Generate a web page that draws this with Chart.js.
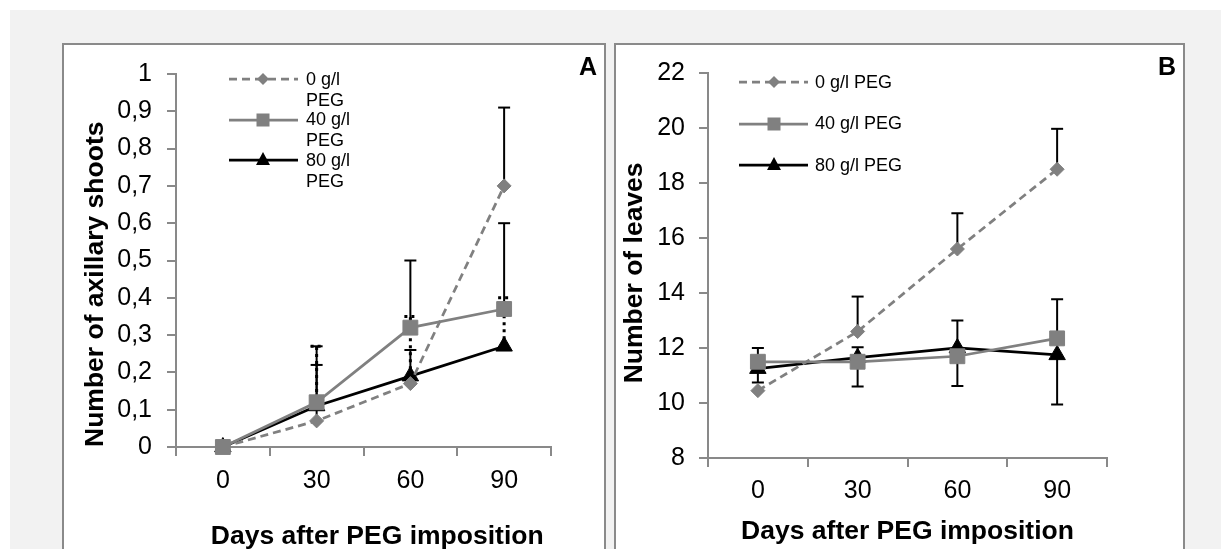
<!DOCTYPE html>
<html><head><meta charset="utf-8">
<script src="https://cdn.jsdelivr.net/npm/chart.js@4"></script>
<style>
html,body{margin:0;padding:0;background:#fff;width:1224px;height:549px;overflow:hidden;font-family:'Liberation Sans',Arial,sans-serif;}
#bg{position:absolute;left:10px;top:10px;width:1211px;height:560px;background:#f2f2f2;}
.panel{position:absolute;top:43px;height:600px;background:#fff;border:2px solid #8a8a8a;box-sizing:border-box;}
canvas{position:absolute;}
.tag{position:absolute;font-weight:bold;font-size:25px;line-height:25px;color:#000;}
.legtxt{position:absolute;font-size:18px;line-height:21px;color:#000;}
svg{position:absolute;overflow:visible;}
</style></head>
<body>
<div id="bg"></div>
<div class="panel" style="left:62px;width:544px;"></div>
<div class="panel" style="left:614px;width:571px;"></div>
<canvas id="cA" style="left:62px;top:44px;width:543px;height:530px;" width="543" height="530"></canvas>
<canvas id="cB" style="left:614px;top:44px;width:570px;height:530px;" width="570" height="530"></canvas>
<div class="tag" style="left:579px;top:54px;">A</div>
<div class="tag" style="left:1158px;top:54px;">B</div>
<div id="legs"></div>
<script>
// ---- data ----
const days = ['0', '30', '60', '90'];
const seriesNames = ['0 g/l PEG', '40 g/l PEG', '80 g/l PEG'];
const yTicksA = ['0', '0,1', '0,2', '0,3', '0,4', '0,5', '0,6', '0,7', '0,8', '0,9', '1'];
const yTicksB = ['8', '10', '12', '14', '16', '18', '20', '22'];

const shoots0 = [0, 0.07, 0.17, 0.70];
const shoots40 = [0, 0.12, 0.32, 0.37];
const shoots80 = [0, 0.11, 0.19, 0.27];
const shoots0Hi = [0, 0.22, 0.26, 0.91];
const shoots40Hi = [0, 0.27, 0.50, 0.60];
const shoots80Hi = [0, 0.27, 0.35, 0.40];

const leaves0 = [10.45, 12.6, 15.6, 18.5];
const leaves40 = [11.5, 11.5, 11.7, 12.35];
const leaves80 = [11.25, 11.65, 12.0, 11.75];
const leaves0Hi = [10.45, 13.87, 16.9, 19.97];
const leaves80Lo = [10.75, 10.6, 10.62, 9.95];
const leaves80Hi = [12.0, 12.03, 13.0, 13.77];

// ---- styles ----
const F = "'Liberation Sans', Arial, sans-serif";
const GRAY = '#808080';
const AX = '#898989';
const styles = [
  {color: GRAY, dash: [8, 5], point: 'rectRot', r: 7},
  {color: GRAY, dash: [], point: 'rect', r: 10.5},
  {color: '#000', dash: [], point: 'triangle', r: 9.5}
];

function ds(i, data, extra) {
  const s = styles[i];
  return Object.assign({
    label: seriesNames[i], data,
    borderColor: s.color, borderWidth: 2.75, borderDash: s.dash,
    pointStyle: s.point, pointRadius: s.r, pointHoverRadius: s.r,
    pointBackgroundColor: s.color, pointBorderColor: s.color, pointBorderWidth: 1,
    tension: 0, fill: false, clip: false
  }, extra || {});
}

const errorBars = {
  id: 'errorBars',
  beforeDatasetsDraw(chart) {
    const {ctx, scales: {x, y}} = chart;
    chart.data.datasets.forEach(d => {
      if (!d.errHi) return;
      ctx.save();
      ctx.strokeStyle = '#000';
      ctx.lineWidth = d.errDash ? 3 : 2;
      ctx.setLineDash(d.errDash || []);
      d.data.forEach((v, i) => {
        const hi = d.errHi[i];
        const lo = d.errLo ? d.errLo[i] : v;
        if (hi == null || hi === lo) return;
        const px = x.getPixelForValue(i);
        const p1 = y.getPixelForValue(hi), p0 = y.getPixelForValue(lo);
        ctx.beginPath(); ctx.moveTo(px, p0); ctx.lineTo(px, p1); ctx.stroke();
        ctx.beginPath(); ctx.moveTo(px - 6, p1); ctx.lineTo(px + 6, p1);
        if (d.errLo) { ctx.moveTo(px - 6, p0); ctx.lineTo(px + 6, p0); }
        ctx.stroke();
      });
      ctx.restore();
    });
  }
};

function xScale(title, padBottom, tickPad, align, h) {
  return {
    type: 'category', offset: true,
    grid: {offset: true, drawOnChartArea: false, drawTicks: true, tickLength: 9, color: AX, lineWidth: 2},
    border: {display: true, color: AX, width: 2},
    ticks: {font: {family: F, size: 25}, color: '#000', padding: tickPad, maxRotation: 0, autoSkip: false},
    title: {display: true, text: title, align: align,
      font: {family: F, size: 26.5, weight: 'bold'}, color: '#000', padding: {top: 0, bottom: padBottom}},
    afterFit(s) { s.height = h; }
  };
}
function yScale(min, max, step, labels, title, align, titlePad, tickPad, w) {
  return {
    min, max,
    grid: {drawOnChartArea: false, drawTicks: true, tickLength: 9, color: AX, lineWidth: 2},
    border: {display: true, color: AX, width: 2},
    ticks: {stepSize: step, autoSkip: false, callback: (v, i) => labels[i], font: {family: F, size: 25}, color: '#000', padding: tickPad},
    title: {display: true, text: title, align: align,
      font: {family: F, size: 26.5, weight: 'bold'}, color: '#000', padding: {top: titlePad, bottom: 0}},
    afterFit(s) { s.width = w; }
  };
}

const common = {
  responsive: false, animation: false, devicePixelRatio: 1,
  plugins: {legend: {display: false}, tooltip: {enabled: false}}
};

new Chart(document.getElementById('cA'), {
  type: 'line',
  data: {
    labels: days,
    datasets: [
      ds(0, shoots0, {errHi: shoots0Hi}),
      ds(1, shoots40, {errHi: shoots40Hi}),
      ds(2, shoots80, {errHi: shoots80Hi, errDash: [3, 4]})
    ]
  },
  options: Object.assign({}, common, {
    layout: {padding: {left: 0, right: 54, top: 26, bottom: 0}},
    scales: {
      x: xScale('Days after PEG imposition ', 21, 10, 'end', 127),
      y: yScale(0, 1, 0.1, yTicksA, 'Number of axillary shoots', 'start', 18, 15, 114)
    }
  }),
  plugins: [errorBars]
});

new Chart(document.getElementById('cB'), {
  type: 'line',
  data: {
    labels: days,
    datasets: [
      ds(0, leaves0, {errHi: leaves0Hi}),
      ds(1, leaves40),
      ds(2, leaves80, {errHi: leaves80Hi, errLo: leaves80Lo})
    ]
  },
  options: Object.assign({}, common, {
    layout: {padding: {left: 0, right: 77, top: 27, bottom: 0}},
    scales: {
      x: xScale('Days after PEG imposition', 26, 9, 'center', 116),
      y: yScale(8, 22, 2, yTicksB, 'Number of leaves  ', 'center', 5, 14, 94)
    }
  }),
  plugins: [errorBars]
});

// ---- legends (HTML) ----
function marker(i, cx, cy) {
  const s = styles[i];
  if (s.point === 'rectRot') return `<polygon points="${cx},${cy-6} ${cx+6},${cy} ${cx},${cy+6} ${cx-6},${cy}" fill="${s.color}"/>`;
  if (s.point === 'rect') return `<rect x="${cx-6.5}" y="${cy-6.5}" width="13" height="13" fill="${s.color}"/>`;
  return `<polygon points="${cx},${cy-8} ${cx+7},${cy+5} ${cx-7},${cy+5}" fill="${s.color}"/>`;
}
function legend(x0, x1, mx, tx, ys, tw) {
  const host = document.getElementById('legs');
  ys.forEach((y, i) => {
    const s = styles[i];
    const w = x1 - x0;
    const svg = `<svg style="left:${x0}px;top:${y-10}px" width="${w}" height="20">
      <line x1="0" y1="10" x2="${w}" y2="10" stroke="${s.color}" stroke-width="2.75" ${s.dash.length ? `stroke-dasharray="${s.dash.join(',')}"` : ''}/>
      ${marker(i, mx - x0, 10)}</svg>`;
    host.insertAdjacentHTML('beforeend', svg);
    const d = document.createElement('div');
    d.className = 'legtxt';
    d.style.left = tx + 'px'; d.style.top = (y - 10.5) + 'px'; d.style.width = tw + 'px';
    d.textContent = seriesNames[i];
    host.appendChild(d);
  });
}
legend(229, 298, 263, 306, [79, 119.5, 160], 52);
legend(739, 808, 774, 815, [82, 123.5, 165], 160);
</script>
</body></html>
